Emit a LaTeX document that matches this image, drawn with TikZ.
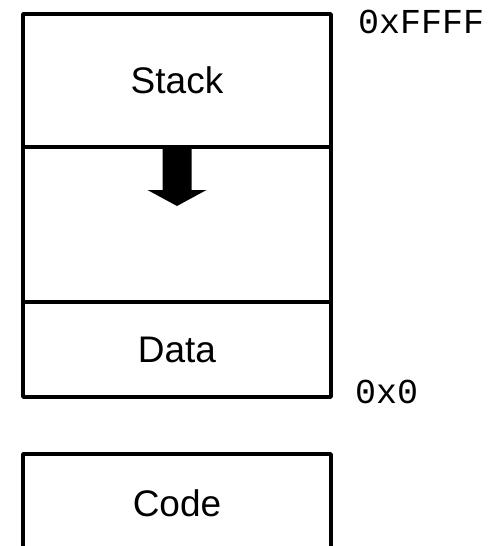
\documentclass[tikz,border=0pt]{standalone}
\usepackage{fontspec}
\setmainfont{Liberation Sans}
\setmonofont{Liberation Mono}
\usetikzlibrary{positioning}

\begin{document}
\begin{tikzpicture}[x=1pt, y=-1pt, seg/.style={draw, line width=3.5pt, line join=round, minimum width=308pt, inner sep=0pt, outer sep=0pt, font=\fontsize{37}{44}\selectfont}, addr/.style={font=\ttfamily\fontsize{35}{42}\selectfont, inner sep=0pt, anchor=base west}]
\useasboundingbox (0,0) rectangle (501,546);
\node[seg, minimum height=133pt] (stack) at (177,80.5) {Stack};
\node[seg, minimum height=155pt, below=0pt of stack] (free) {};
\node[seg, minimum height=95pt, below=0pt of free] (data) {Data};
\node[seg, minimum height=98pt, below=57pt of data] (code) {Code};
% growth arrow
\fill (free.north) ++(-14.5,0) -- ++(0,43) -- ++(-15,0) -- ++(29.5,16) -- ++(29.5,-16) -- ++(-15,0) -- ++(0,-43) -- cycle;
\node[addr] (hi) at ([xshift=27pt, yshift=-19pt]stack.north east) {0xFFFF};
\node[addr] (lo) at ([xshift=24pt, yshift=-6pt]data.south east) {0x0};
\end{tikzpicture}
\end{document}
